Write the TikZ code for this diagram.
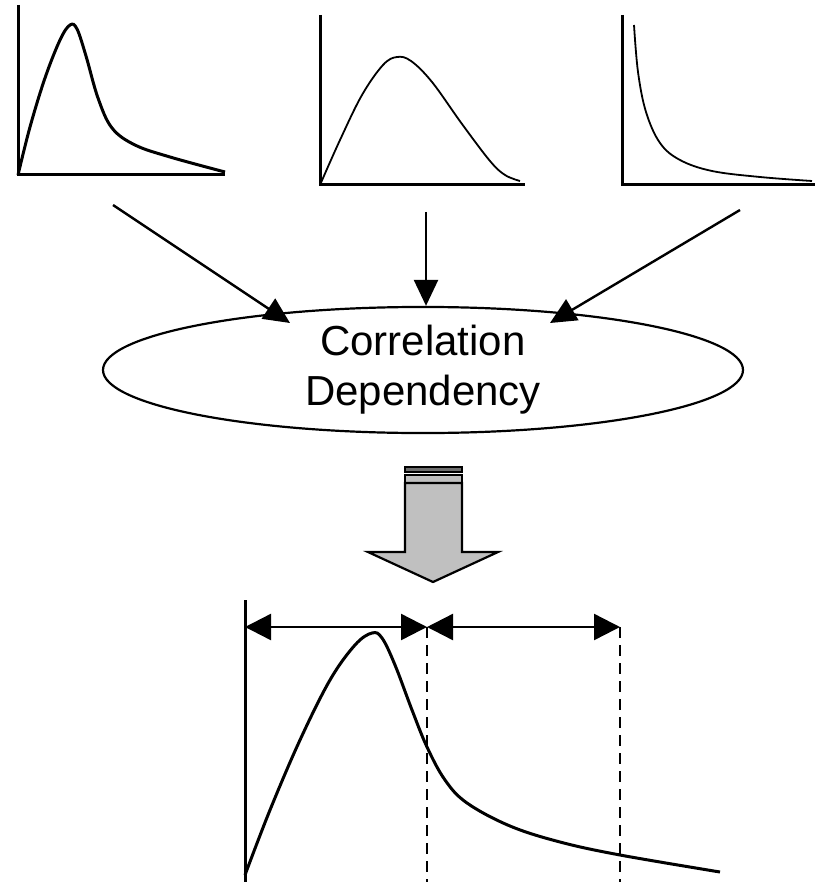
\documentclass[tikz,border=0pt]{standalone}
\usepackage{fontspec}
\setmainfont{Liberation Sans}
\usetikzlibrary{arrows.meta,shapes.geometric}

\definecolor{blockgray}{RGB}{192,192,192}
\definecolor{stripgray}{RGB}{110,110,110}

\tikzset{
  axis/.style={line width=1.5pt},
  curve/.style={line width=1.5pt},
  thincurve/.style={line width=0.9pt},
  feed/.style={line width=1.2pt,-{Triangle[length=13pt,width=12pt]}},
  span/.style={line width=1.2pt,{Triangle[length=13pt,width=13pt]}-{Triangle[length=13pt,width=13pt]}},
  cut/.style={line width=1.3pt,dash pattern=on 5.5pt off 3.5pt},
  block/.style={line width=1.1pt,fill=blockgray}
}

\begin{document}
\begin{tikzpicture}[x=0.5pt,y=-0.5pt]
\useasboundingbox (0,0) rectangle (825,882);

% Coordinates
\coordinate (A1) at (113,205);
\coordinate (A2) at (426,212);
\coordinate (A3) at (740,210);
\coordinate (T1) at (290,323);
\coordinate (T3) at (550,323);

% Input densities
\draw[axis] (18,5) -- (18,175) -- (225,175);
\draw[curve] plot[smooth,tension=0.6] coordinates {(18,175) (30,127) (45,78) (60,40)
  (70,25) (77,29) (86,56) (98,98) (112,128) (135,145) (170,157) (225,172)};

\draw[axis] (320,15) -- (320,185) -- (525,185);
\draw[thincurve] plot[smooth,tension=0.6] coordinates {(320,185) (340,140) (362,95)
  (383,65) (397,57) (411,61) (432,82) (462,124) (490,161) (505,175) (520,181)};

\draw[axis] (622,15) -- (622,185) -- (815,185);
\draw[thincurve] plot[smooth,tension=0.6] coordinates {(634,25) (638,72) (646,112)
  (660,143) (680,160) (712,171) (760,177) (812,181)};

% Correlation ellipse
\node[draw,ellipse,line width=1.1pt,minimum width=320pt,minimum height=58pt,inner sep=0pt,
  align=center,font=\fontsize{21}{25}\selectfont] (corr) at (423,370)
  {Correlation\\Dependency};

% Arrows into ellipse
\draw[feed] (A1) -- (T1);
\draw[feed] (A2) -- (A2 |- corr.north);
\draw[feed] (A3) -- (T3);

% Block arrow
\draw[block,fill=stripgray] (405,467) rectangle (462,472);
\draw[block] (405,475) rectangle (462,483);
\draw[block] (405,483) -- (462,483) -- (462,552) -- (498,552) -- (433,582)
  -- (368,552) -- (405,552) -- cycle;

% Joint density
\coordinate (B0) at (245,627);
\coordinate (B1) at (427,627);
\coordinate (B2) at (620,627);

\draw[axis] (245,600) -- (245,882);
\draw[curve] plot[smooth,tension=0.6] coordinates {(245,875) (270,810) (300,740)
  (330,680) (355,645) (372,633) (382,638) (395,665) (412,710) (427,747) (445,780)
  (467,803) (510,826) (560,842) (620,855) (720,872)};

% Dashed cut lines
\draw[cut] (B1) -- (427,882);
\draw[cut] (B2) -- (620,882);

% Interval arrows
\draw[span] (B0) -- (B1);
\draw[span] (B1) -- (B2);

\end{tikzpicture}
\end{document}
